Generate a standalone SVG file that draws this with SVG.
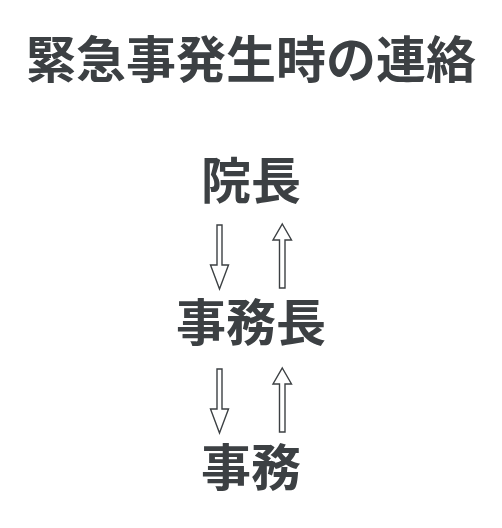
<svg xmlns="http://www.w3.org/2000/svg" width="502" height="528" viewBox="0 0 502 528">
<style>
.t{font-family:"Noto Sans CJK JP","Noto Sans CJK SC",sans-serif;font-weight:bold;fill:#3c4043;text-anchor:middle}
.a{fill:#ffffff;stroke:#3c4043;stroke-width:1.4;stroke-linejoin:miter}
</style>
<rect width="502" height="528" fill="#ffffff"/>
<text id="title" class="t" x="251" y="78" font-size="50">緊急事発生時の連絡</text>
<g id="node-incho"><text class="t" x="251" y="199" font-size="50">院長</text></g>
<g id="node-jimucho"><text class="t" x="251" y="341" font-size="50">事務長</text></g>
<g id="node-jimu"><text class="t" x="251" y="486" font-size="50">事務</text></g>
<g id="connectors">
<polygon class="a" points="217,225 222,225 222,265 228.5,265 219.5,289 210.5,265 217,265"/>
<polygon class="a" points="282.3,224 291.5,240 285,240 285,288 279.5,288 279.5,240 273,240"/>
<polygon class="a" transform="translate(0,144)" points="217,225 222,225 222,265 228.5,265 219.5,289 210.5,265 217,265"/>
<polygon class="a" transform="translate(0,144)" points="282.3,224 291.5,240 285,240 285,288 279.5,288 279.5,240 273,240"/>
</g>
</svg>
